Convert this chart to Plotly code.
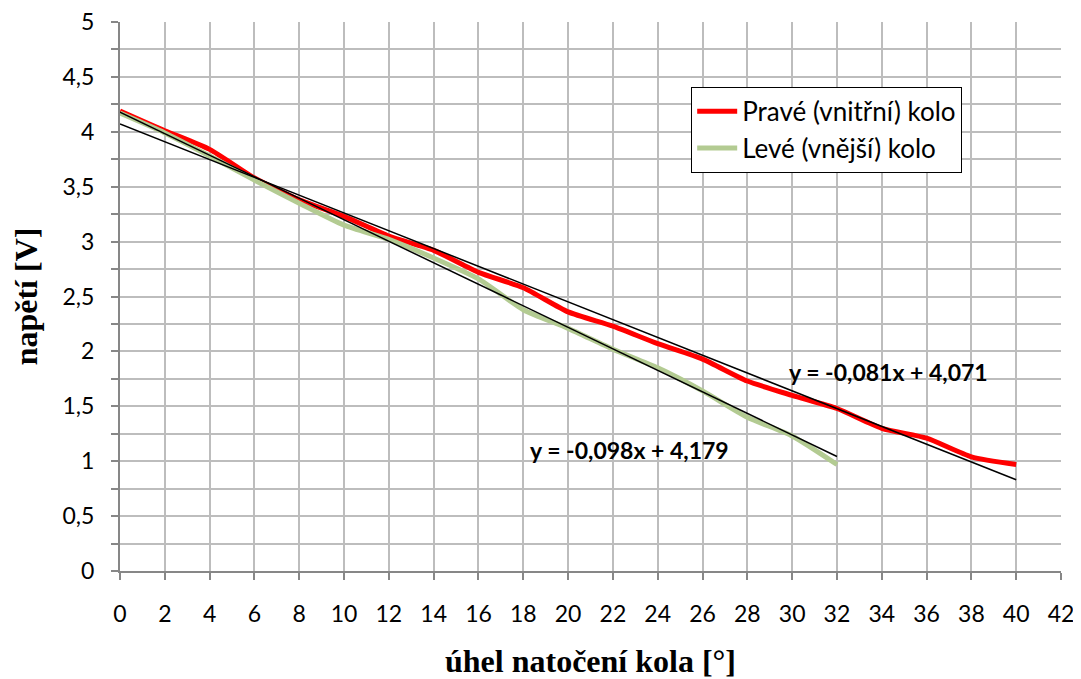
import plotly.graph_objects as go

# Data
angle_right = [0, 2, 4, 6, 8, 10, 12, 14, 16, 18, 20, 22, 24, 26, 28, 30, 32, 34, 36, 38, 40]
voltage_right = [4.19, 4.01, 3.84, 3.58, 3.38, 3.23, 3.05, 2.92, 2.72, 2.58, 2.36, 2.23, 2.07,
                 1.93, 1.73, 1.60, 1.48, 1.30, 1.21, 1.04, 0.97]
angle_left = [0, 2, 4, 6, 8, 10, 12, 14, 16, 18, 20, 22, 24, 26, 28, 30, 32]
voltage_left = [4.17, 3.99, 3.78, 3.56, 3.35, 3.15, 3.02, 2.85, 2.66, 2.38, 2.21, 2.02, 1.85,
                1.64, 1.40, 1.23, 0.97]

# Trendlines (coefficients as shown in chart)
trend_right_slope, trend_right_intercept = -0.081, 4.071
trend_left_slope, trend_left_intercept = -0.098, 4.179
trend_right_x = [0, 40]
trend_left_x = [0, 32]
trend_right_label = "y = -0,081x + 4,071"
trend_left_label = "y = -0,098x + 4,179"

x_ticks = list(range(0, 43, 2))
y_ticks = [0, 0.5, 1, 1.5, 2, 2.5, 3, 3.5, 4, 4.5, 5]
y_tick_text = ["0", "0,5", "1", "1,5", "2", "2,5", "3", "3,5", "4", "4,5", "5"]

fig = go.Figure()

fig.add_trace(go.Scatter(
    x=angle_right, y=voltage_right, mode="lines", name="Pravé (vnitřní) kolo",
    legendgroup="r",
    line=dict(color="#FF0000", width=5, shape="spline", smoothing=0.6)))
fig.add_trace(go.Scatter(
    x=angle_left, y=voltage_left, mode="lines", name="Levé (vnější) kolo",
    legendgroup="l",
    line=dict(color="#B3CB92", width=5, shape="spline", smoothing=0.6)))

fig.add_trace(go.Scatter(
    x=trend_right_x, y=[trend_right_slope * v + trend_right_intercept for v in trend_right_x],
    mode="lines", line=dict(color="black", width=1.5), showlegend=False, hoverinfo="skip"))
fig.add_trace(go.Scatter(
    x=trend_left_x, y=[trend_left_slope * v + trend_left_intercept for v in trend_left_x],
    mode="lines", line=dict(color="black", width=1.5), showlegend=False, hoverinfo="skip"))

fig.add_annotation(x=34.3, y=1.81, xref="x", yref="y", text=trend_right_label, showarrow=False,
                   font=dict(family="Lato", size=23, color="black", weight="bold"))
fig.add_annotation(x=22.75, y=1.10, xref="x", yref="y", text=trend_left_label, showarrow=False,
                   font=dict(family="Lato", size=23, color="black", weight="bold"))

grid_color = "#BDBDBD"
axis_color = "#878787"

# page body has an 8px margin; size the figure so the plot area lands where the reference's does
fig.update_layout(
    width=1073, height=671,
    margin=dict(l=112, r=20, t=14, b=108),
    paper_bgcolor="white", plot_bgcolor="white",
    separators=", ",
    font=dict(family="Lato", size=23, color="black"),
    legend=dict(x=0.607, y=0.882, xanchor="left", yanchor="top",
                bordercolor="black", borderwidth=1, bgcolor="white",
                font=dict(family="Lato", size=26), tracegroupgap=10,
                itemwidth=40, traceorder="normal"),
    xaxis=dict(range=[0, 42], tickvals=x_ticks, ticktext=[str(v) for v in x_ticks],
               showgrid=True, gridcolor=grid_color, gridwidth=2,
               showline=True, linecolor=axis_color, linewidth=2,
               ticks="outside", ticklen=7, tickcolor=axis_color, tickwidth=2,
               zeroline=False, ticklabelstandoff=14, automargin=False,
               ticklabeloverflow="allow",
               title=dict(text="úhel natočení kola [°]", standoff=24,
                          font=dict(family="Liberation Serif", size=32, weight="bold"))),
    yaxis=dict(range=[0, 5], tickvals=y_ticks, ticktext=y_tick_text,
               showgrid=True, gridcolor=grid_color, gridwidth=2,
               showline=True, linecolor=axis_color, linewidth=2,
               ticks="outside", ticklen=7, tickcolor=axis_color, tickwidth=2,
               zeroline=False, ticklabelstandoff=12, automargin=False,
               ticklabeloverflow="allow",
               minor=dict(dtick=0.25, tick0=0, showgrid=True, gridcolor=grid_color, gridwidth=2,
                          ticks="outside", ticklen=7, tickcolor=axis_color, tickwidth=2),
               title=dict(text="napětí [V]", standoff=22,
                          font=dict(family="Liberation Serif", size=32, weight="bold"))),
)

fig.write_html("out.html")
